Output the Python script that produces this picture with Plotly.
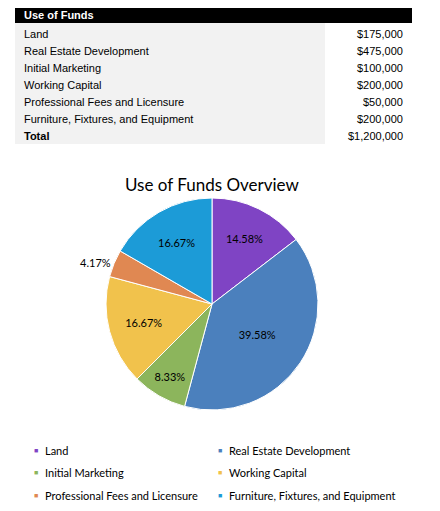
import plotly.graph_objects as go

categories = ["Land", "Real Estate Development", "Initial Marketing", "Working Capital",
              "Professional Fees and Licensure", "Furniture, Fixtures, and Equipment"]
amounts = [175000, 475000, 100000, 200000, 50000, 200000]
total_label = "Total"
total_amount = 1200000
table_title = "Use of Funds"
chart_title = "Use of Funds Overview"

colors = ["#7f44c4", "#4b80bd", "#8cb55c", "#f1c24c", "#e08852", "#1c9bd7"]

# page body keeps its default 8px margin; size the figure so nothing overflows
W, H, OFF = 424, 495, 8


def px(x):
    return (x - OFF) / W


def py(y):
    return 1 - (y - OFF) / H


def note(text, x, y, anchor="left", **font):
    fig.add_annotation(text=text, x=px(x), y=py(y), xref="paper", yref="paper",
                       xanchor=anchor, yanchor="middle", showarrow=False,
                       font=dict(family="Arial", size=11, color="black") | font)


fig = go.Figure()

# ---- table -------------------------------------------------------------
row_h = 17
fig.add_shape(type="rect", xref="paper", yref="paper", x0=px(15), x1=px(412), y0=py(6), y1=py(23),
              fillcolor="black", line_width=0)
fig.add_shape(type="rect", xref="paper", yref="paper", x0=px(15), x1=px(325), y0=py(23),
              y1=py(25 + row_h * 7), fillcolor="#f2f2f2", line_width=0)
note("<b>" + table_title + "</b>", 22, 15, color="white")

rows = list(zip(categories, amounts)) + [(total_label, total_amount)]
for i, (name, val) in enumerate(rows):
    yc = 33.5 + i * row_h
    label = "<b>" + name + "</b>" if name == total_label else name
    note(label, 22, yc)
    note("${:,.0f}".format(val), 405, yc, anchor="right")

# ---- pie ---------------------------------------------------------------
fig.add_trace(go.Pie(
    labels=categories, values=amounts,
    marker=dict(colors=colors, line=dict(color="white", width=1)),
    sort=False, direction="clockwise", rotation=0,
    texttemplate="%{percent:.2%}",
    textposition=["inside", "inside", "inside", "inside", "outside", "inside"],
    insidetextorientation="horizontal",
    textfont=dict(family="Lato", size=11, color="black"),
    domain=dict(x=[px(62), px(362)], y=[py(410), py(198)]),
    automargin=False,
    showlegend=False,
))

note(chart_title, 212, 184, anchor="center", family="Lato", size=17)

# ---- legend (two columns, small square keys) ---------------------------
for i, (name, col) in enumerate(zip(categories, colors)):
    cx = 36 + 184 * (i % 2)
    cy = 450 + 22.5 * (i // 2)
    note("■", cx, cy, anchor="center", size=7, color=col)
    note(name, cx + 7, cy, family="Lato")

fig.update_layout(
    width=W, height=H,
    margin=dict(l=0, r=0, t=0, b=0, autoexpand=False),
    paper_bgcolor="white",
    showlegend=False,
)

fig.write_html("out.html")
